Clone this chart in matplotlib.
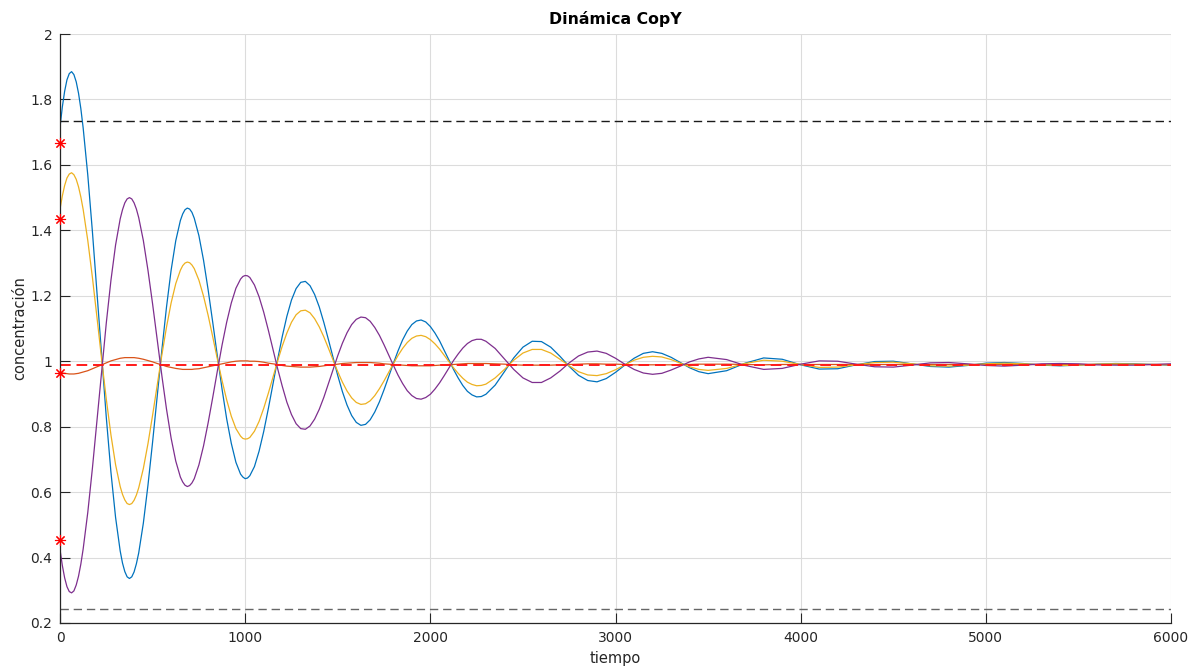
import numpy as np
import matplotlib
matplotlib.use("Agg")
import matplotlib.pyplot as plt
from matplotlib.ticker import FuncFormatter

# Dinámica CopY: cuatro trayectorias que convergen al equilibrio

tiempo = [0, 12.5, 25, 37.5, 50, 62.5, 75, 87.5, 100, 112.5, 125, 150, 175, 200, 225,
          250, 275, 300, 325, 337.5, 350, 362.5, 375, 387.5, 400, 412.5, 425, 450, 475,
          500, 525, 550, 575, 600, 625, 650, 662.5, 675, 687.5, 700, 712.5, 725, 750,
          775, 800, 825, 850, 875, 900, 925, 950, 975, 987.5, 1000, 1012.5, 1025, 1050,
          1075, 1100, 1125, 1150, 1175, 1200, 1225, 1250, 1275, 1300, 1325, 1350, 1375,
          1400, 1425, 1450, 1475, 1500, 1525, 1550, 1575, 1600, 1625, 1650, 1675, 1700,
          1725, 1750, 1775, 1800, 1825, 1850, 1875, 1900, 1925, 1950, 1975, 2000, 2025,
          2050, 2075, 2100, 2125, 2150, 2175, 2200, 2225, 2250, 2275, 2300, 2350, 2400,
          2450, 2500, 2550, 2600, 2650, 2700, 2750, 2800, 2850, 2900, 2950, 3000, 3050,
          3100, 3150, 3200, 3250, 3300, 3350, 3400, 3450, 3500, 3600, 3700, 3800, 3900,
          4000, 4100, 4200, 4300, 4400, 4500, 4600, 4700, 4800, 4900, 5000, 5100, 5200,
          5300, 5400, 5500, 5600, 5700, 5800, 5900, 6000]

y_azul = [1.715, 1.777, 1.825, 1.860, 1.879, 1.885, 1.876, 1.854, 1.819, 1.772, 1.713,
          1.569, 1.396, 1.206, 1.013, 0.828, 0.661, 0.523, 0.420, 0.383, 0.357, 0.341,
          0.336, 0.341, 0.356, 0.381, 0.414, 0.505, 0.621, 0.753, 0.894, 1.034, 1.165,
          1.278, 1.368, 1.430, 1.450, 1.463, 1.468, 1.465, 1.455, 1.437, 1.384, 1.309,
          1.218, 1.118, 1.015, 0.915, 0.824, 0.749, 0.691, 0.655, 0.646, 0.641, 0.643,
          0.650, 0.678, 0.725, 0.785, 0.855, 0.930, 1.005, 1.075, 1.137, 1.187, 1.222,
          1.241, 1.244, 1.231, 1.204, 1.166, 1.118, 1.065, 1.010, 0.956, 0.907, 0.866,
          0.834, 0.813, 0.804, 0.807, 0.821, 0.845, 0.876, 0.913, 0.953, 0.993, 1.031,
          1.065, 1.092, 1.112, 1.123, 1.126, 1.120, 1.106, 1.086, 1.062, 1.033, 1.004,
          0.975, 0.949, 0.926, 0.908, 0.897, 0.891, 0.892, 0.899, 0.927, 0.968, 1.010,
          1.043, 1.061, 1.060, 1.043, 1.015, 0.984, 0.957, 0.941, 0.937, 0.947, 0.966,
          0.988, 1.009, 1.024, 1.029, 1.024, 1.012, 0.996, 0.980, 0.968, 0.962, 0.971,
          0.994, 1.010, 1.006, 0.989, 0.976, 0.977, 0.989, 0.999, 1.000, 0.992, 0.984,
          0.982, 0.987, 0.994, 0.996, 0.993, 0.988, 0.986, 0.988, 0.991, 0.993, 0.992,
          0.990, 0.988]

y_naranja = [0.966, 0.964, 0.963, 0.962, 0.961, 0.961, 0.961, 0.962, 0.963, 0.965, 0.967,
             0.971, 0.977, 0.983, 0.989, 0.995, 1.001, 1.005, 1.009, 1.010, 1.011, 1.011,
             1.011, 1.011, 1.011, 1.010, 1.009, 1.006, 1.002, 0.998, 0.993, 0.989, 0.984,
             0.981, 0.978, 0.976, 0.975, 0.975, 0.975, 0.975, 0.975, 0.976, 0.977, 0.980,
             0.983, 0.986, 0.989, 0.992, 0.995, 0.998, 1.000, 1.001, 1.001, 1.001, 1.001,
             1.000, 1.000, 0.999, 0.997, 0.994, 0.992, 0.990, 0.987, 0.985, 0.984, 0.983,
             0.982, 0.982, 0.982, 0.983, 0.984, 0.986, 0.988, 0.989, 0.991, 0.993, 0.994,
             0.995, 0.996, 0.996, 0.996, 0.996, 0.995, 0.994, 0.992, 0.991, 0.990, 0.989,
             0.988, 0.987, 0.986, 0.986, 0.986, 0.986, 0.986, 0.987, 0.988, 0.989, 0.990,
             0.990, 0.991, 0.992, 0.993, 0.993, 0.993, 0.993, 0.993, 0.992, 0.991, 0.989,
             0.988, 0.988, 0.988, 0.988, 0.989, 0.990, 0.991, 0.992, 0.992, 0.991, 0.991,
             0.990, 0.989, 0.989, 0.989, 0.989, 0.989, 0.990, 0.990, 0.991, 0.991, 0.991,
             0.990, 0.989, 0.990, 0.990, 0.990, 0.990, 0.990, 0.990, 0.990, 0.990, 0.990,
             0.990, 0.990, 0.990, 0.990, 0.990, 0.990, 0.990, 0.990, 0.990, 0.990, 0.990,
             0.990, 0.990]

y_amarillo = [1.465, 1.505, 1.537, 1.560, 1.572, 1.576, 1.570, 1.556, 1.533, 1.502, 1.464,
              1.369, 1.256, 1.132, 1.005, 0.884, 0.775, 0.684, 0.617, 0.593, 0.576, 0.565,
              0.562, 0.565, 0.575, 0.591, 0.613, 0.672, 0.748, 0.835, 0.927, 1.019, 1.104,
              1.178, 1.237, 1.278, 1.292, 1.300, 1.303, 1.301, 1.294, 1.283, 1.248, 1.199,
              1.140, 1.074, 1.006, 0.941, 0.882, 0.832, 0.794, 0.771, 0.764, 0.762, 0.763,
              0.767, 0.786, 0.816, 0.856, 0.902, 0.951, 1.000, 1.046, 1.086, 1.119, 1.142,
              1.154, 1.156, 1.148, 1.130, 1.105, 1.074, 1.039, 1.003, 0.968, 0.936, 0.909,
              0.888, 0.874, 0.868, 0.870, 0.879, 0.895, 0.916, 0.940, 0.966, 0.992, 1.017,
              1.039, 1.057, 1.070, 1.077, 1.079, 1.075, 1.066, 1.053, 1.037, 1.018, 0.999,
              0.980, 0.963, 0.948, 0.936, 0.929, 0.925, 0.926, 0.930, 0.949, 0.975, 1.003,
              1.025, 1.036, 1.036, 1.025, 1.006, 0.986, 0.968, 0.958, 0.956, 0.962, 0.974,
              0.989, 1.003, 1.012, 1.015, 1.013, 1.005, 0.994, 0.983, 0.975, 0.972, 0.978,
              0.993, 1.003, 1.000, 0.990, 0.981, 0.982, 0.989, 0.996, 0.997, 0.992, 0.986,
              0.985, 0.988, 0.992, 0.994, 0.992, 0.989, 0.987, 0.988, 0.991, 0.992, 0.991,
              0.990, 0.989]

y_morado = [0.424, 0.376, 0.338, 0.311, 0.296, 0.292, 0.298, 0.316, 0.343, 0.380, 0.426,
            0.538, 0.673, 0.821, 0.972, 1.117, 1.247, 1.355, 1.435, 1.463, 1.484, 1.496,
            1.500, 1.496, 1.484, 1.465, 1.439, 1.369, 1.278, 1.175, 1.065, 0.956, 0.854,
            0.765, 0.695, 0.646, 0.631, 0.621, 0.617, 0.620, 0.628, 0.641, 0.683, 0.741,
            0.812, 0.890, 0.971, 1.049, 1.119, 1.178, 1.223, 1.251, 1.259, 1.262, 1.261,
            1.256, 1.233, 1.197, 1.150, 1.095, 1.037, 0.978, 0.924, 0.875, 0.837, 0.809,
            0.794, 0.792, 0.802, 0.823, 0.853, 0.890, 0.932, 0.975, 1.017, 1.055, 1.087,
            1.112, 1.128, 1.135, 1.133, 1.122, 1.103, 1.079, 1.050, 1.019, 0.988, 0.958,
            0.932, 0.910, 0.895, 0.886, 0.884, 0.889, 0.899, 0.915, 0.934, 0.956, 0.979,
            1.002, 1.022, 1.040, 1.054, 1.063, 1.067, 1.067, 1.061, 1.039, 1.007, 0.975,
            0.949, 0.935, 0.935, 0.949, 0.970, 0.995, 1.016, 1.028, 1.031, 1.024, 1.009,
            0.991, 0.975, 0.964, 0.960, 0.963, 0.973, 0.985, 0.998, 1.007, 1.012, 1.005,
            0.987, 0.975, 0.978, 0.991, 1.001, 1.000, 0.991, 0.983, 0.982, 0.988, 0.995,
            0.996, 0.992, 0.987, 0.985, 0.988, 0.992, 0.993, 0.992, 0.989, 0.988, 0.988,
            0.990, 0.992]

# condiciones iniciales y niveles de referencia
y0 = [1.667, 1.436, 0.965, 0.453]
equilibrio = 0.989
cota_sup = 1.733
cota_inf = 0.244

xticks = [0, 1000, 2000, 3000, 4000, 5000, 6000]
yticks = [0.2, 0.4, 0.6, 0.8, 1.0, 1.2, 1.4, 1.6, 1.8, 2.0]

c_eje = '#262626'

fig = plt.figure(figsize=(11.93, 6.67), dpi=100)
ax = fig.add_axes([0.0503, 0.066, 0.9313, 0.883])

ax.plot(tiempo, y_azul, color='#0072BD', lw=0.9)
ax.plot(tiempo, y_naranja, color='#D95319', lw=0.9)
ax.plot(tiempo, y_amarillo, color='#EDB120', lw=0.9)
ax.plot(tiempo, y_morado, color='#7E2F8E', lw=0.9)

ax.axhline(equilibrio, color='#ff1a1a', lw=1.4, dashes=(5.5, 3))
ax.axhline(cota_sup, color='#1a1a1a', lw=1.0, dashes=(6, 3.5))
ax.axhline(cota_inf, color='#666666', lw=1.0, dashes=(6, 3.5))

ax.plot(np.zeros(len(y0)), y0, linestyle='none', marker=(8, 2, 0),
        markersize=8, markeredgewidth=0.8, color='red', clip_on=False, zorder=5)

ax.set_xlim(0, 6000)
ax.set_ylim(0.2, 2)
ax.set_xticks(xticks)
ax.set_yticks(yticks)
ax.yaxis.set_major_formatter(FuncFormatter(lambda v, p: '%g' % round(v, 1)))
ax.tick_params(direction='in', length=7.5, width=0.8, colors=c_eje,
               labelsize=10, pad=5.5)
ax.grid(True, color='#dcdcdc', lw=0.8)
ax.set_axisbelow(True)

for s in ['top', 'right']:
    ax.spines[s].set_visible(False)
for s in ['left', 'bottom']:
    ax.spines[s].set_color(c_eje)
    ax.spines[s].set_linewidth(0.9)

ax.set_title('Dinámica CopY', fontsize=11.3, fontweight='bold', pad=7.5)
ax.set_xlabel('tiempo', fontsize=10.5, color=c_eje, labelpad=4.5)
ax.set_ylabel('concentración', fontsize=10.5, color=c_eje, labelpad=2)

fig.savefig('out.png', dpi=100)
